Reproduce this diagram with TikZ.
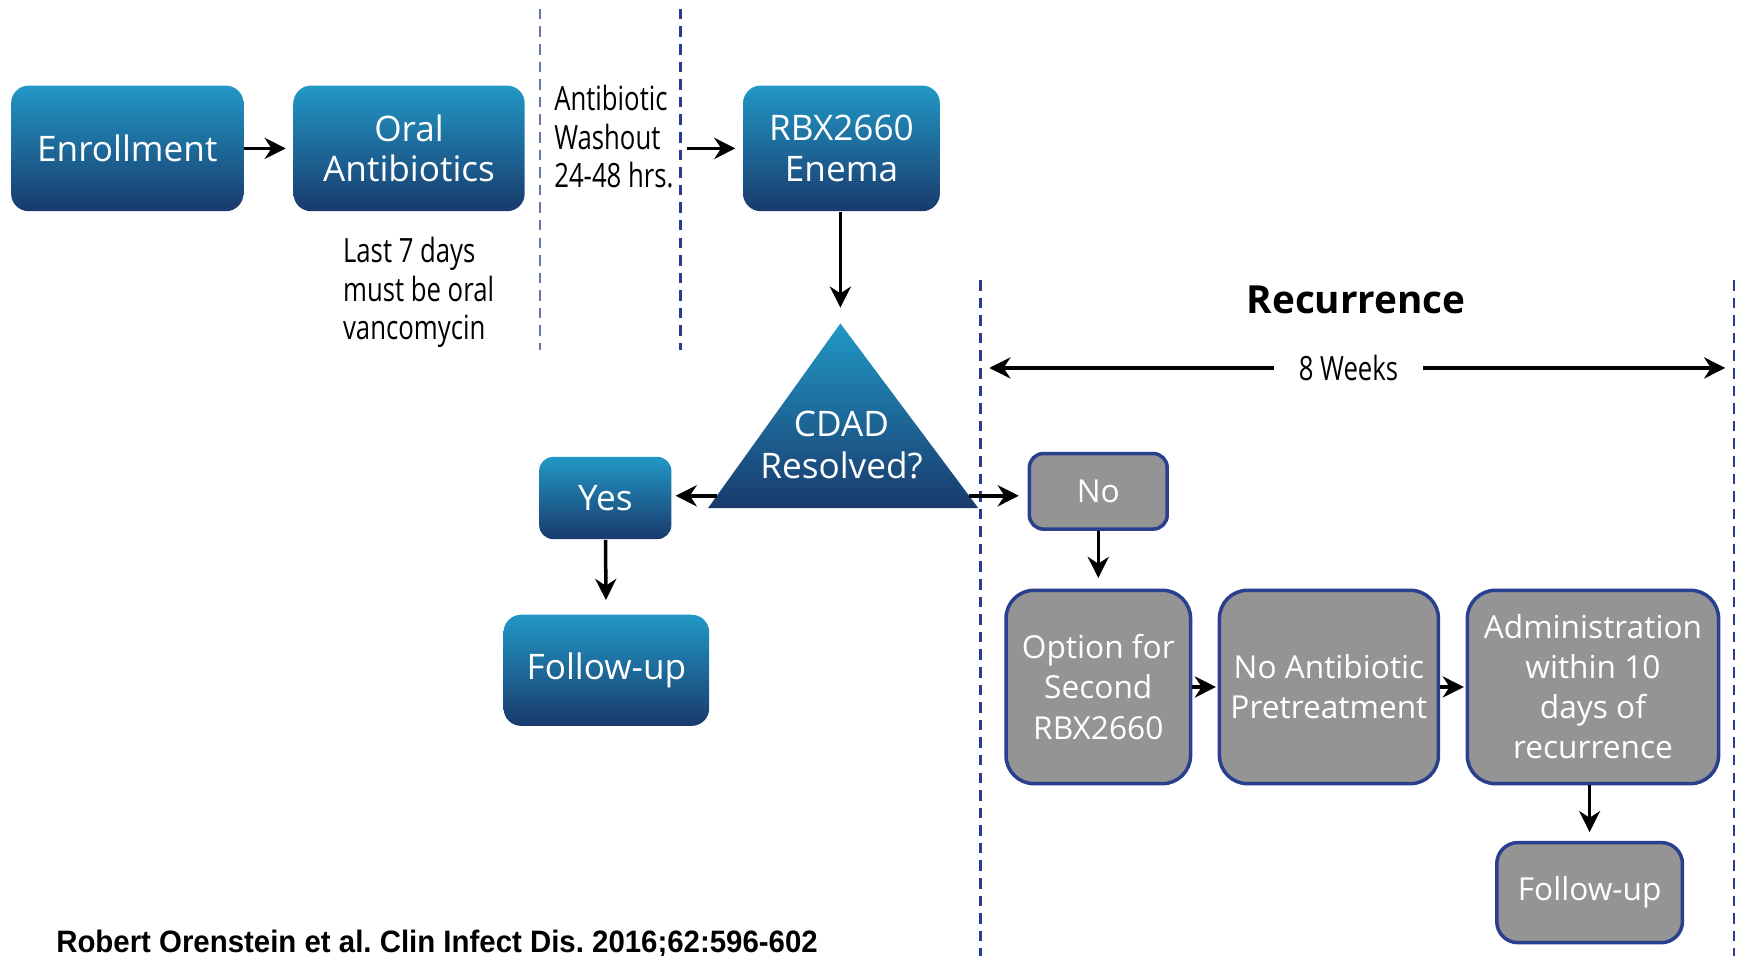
\documentclass[tikz,border=0pt]{standalone}
\usepackage{fontspec}
\setmainfont{Open Sans}
\newfontfamily\condfont{Open Sans}[FakeStretch=0.77]
\newfontfamily\citefont{Liberation Sans}[FakeStretch=0.95]
\usepackage{tikz}
\usetikzlibrary{arrows.meta}
\frenchspacing
\definecolor{boxtop}{RGB}{33,152,198}
\definecolor{boxbot}{RGB}{25,58,108}
\definecolor{greyfill}{RGB}{148,148,148}
\definecolor{greyedge}{RGB}{43,63,143}
\definecolor{dashblue}{RGB}{40,60,150}
\newcommand{\pxu}{0.011116cm}
\tikzset{
  bbox/.style ={rounded corners=5pt, top color=boxtop, bottom color=boxbot, text=white, font=\fontsize{10}{12}\selectfont, align=center, inner sep=0pt},
  gbox/.style ={rounded corners=8pt, fill=greyfill, draw=greyedge, line width=1pt, text=white, font=\fontsize{9}{11.4}\selectfont, align=center, inner sep=0pt},
  lab/.style  ={font=\condfont\fontsize{9.5}{11}\selectfont, align=left, inner sep=0pt},
  ptr/.style  ={draw=black, line width=1pt, -{Stealth[length=6pt,width=6pt]}},
  ptrs/.style ={draw=black, line width=1pt, {Stealth[length=6pt,width=6pt]}-{Stealth[length=6pt,width=6pt]}},
  sep/.style  ={draw=dashblue, line width=0.7pt, dash pattern=on 3pt off 2pt},
}
\begin{document}
\begin{tikzpicture}[x=\pxu, y=-\pxu]
  \useasboundingbox (0,0) rectangle (1568,860);
  % separators
  \draw[sep, draw=dashblue!70, line width=0.5pt] (486,8) -- (486,315);
  \draw[sep] (612,8) -- (612,315);
  \draw[sep] (882,252) -- (882,860);
  \draw[sep] (1560,252) -- (1560,860);
  % treatment row
  \node[bbox, minimum width=209*\pxu, minimum height=113*\pxu] (enrol) at (114.5,133.5) {Enrollment};
  \node[bbox, minimum width=208*\pxu, minimum height=113*\pxu] (oral) at (368,133.5) {Oral\\[-0.5pt]Antibiotics};
  \node[bbox, minimum width=177*\pxu, minimum height=113*\pxu] (enema) at (757,133.5) {RBX2660\\[-0.5pt]Enema};
  \node[lab, anchor=west] (wash) at (498,123) {Antibiotic\\Washout\\24-48 hrs.};
  \node[lab, anchor=west] (vanco) at (308,263) {Last 7 days\\must be oral\\vancomycin};
  \coordinate (washout) at (618,133.5);
  \draw[ptr, shorten >=2pt] (enrol) -- (oral);
  \draw[ptr, shorten >=2pt] (washout) -- (enema.west);
  % decision
  \coordinate (apex) at (756,291);
  \coordinate (tri-a) at (637,457);
  \coordinate (tri-b) at (880,457);
  \shade[top color=boxtop, bottom color=boxbot] (apex) -- (tri-b) -- (tri-a) -- cycle;
  \node[text=white, font=\fontsize{10}{12}\selectfont, align=center, inner sep=0pt] (cdad) at (757,400) {CDAD\\Resolved?};
  \draw[ptr, shorten >=4.5pt] (enema.south -| apex) -- (apex);
  \coordinate (tri-w) at (645,446);
  \coordinate (tri-e) at (872,446);
  % resolved
  \node[bbox, rounded corners=4pt, minimum width=119*\pxu, minimum height=74*\pxu] (yes) at (544.5,448) {Yes};
  \node[bbox, minimum width=185*\pxu, minimum height=100*\pxu] (fupa) at (545.5,603) {Follow-up};
  \draw[ptr, shorten >=1pt] (tri-w) -- (tri-w -| yes.east);
  \draw[ptr, shorten >=4pt] (yes) -- (fupa);
  % recurrence
  \node[font=\bfseries\fontsize{11}{13}\selectfont, inner sep=0pt] (recur) at (1220,270) {Recurrence};
  \coordinate (wk-l) at (890,331);
  \coordinate (wk-r) at (1552,331);
  \draw[ptrs] (wk-l) -- node[lab, fill=white, inner xsep=7pt, inner ysep=2pt, pos=0.488] {8 Weeks} (wk-r);
  \node[gbox, rounded corners=4pt, minimum width=124*\pxu, minimum height=68*\pxu] (no) at (988,442) {No};
  \node[gbox, minimum width=166*\pxu, minimum height=174*\pxu] (opt) at (988,618) {Option for\\Second\\RBX2660};
  \node[gbox, minimum width=197*\pxu, minimum height=174*\pxu] (pre) at (1195.5,618) {No Antibiotic\\Pretreatment};
  \node[gbox, minimum width=226*\pxu, minimum height=174*\pxu] (adm) at (1433,618) {Administration\\within 10\\days of\\recurrence};
  \node[gbox, rounded corners=6pt, minimum width=167*\pxu, minimum height=90*\pxu] (fupb) at (1430,803) {Follow-up};
  \draw[ptr, shorten >=2.5pt] (tri-e) -- (tri-e -| no.west);
  \draw[ptr, shorten >=3pt] (no) -- (opt);
  \draw[ptr, shorten >=0.5pt] (opt) -- (pre);
  \draw[ptr, shorten >=0.5pt] (pre) -- (adm);
  \draw[ptr, shorten >=2.5pt] (adm.south -| fupb) -- (fupb);
  % source
  \node[font=\citefont\bfseries\fontsize{8.8}{10}\selectfont, anchor=west, inner sep=0pt] (cite) at (50,849) {Robert Orenstein et al. Clin Infect Dis. 2016;62:596-602};
\end{tikzpicture}
\end{document}
